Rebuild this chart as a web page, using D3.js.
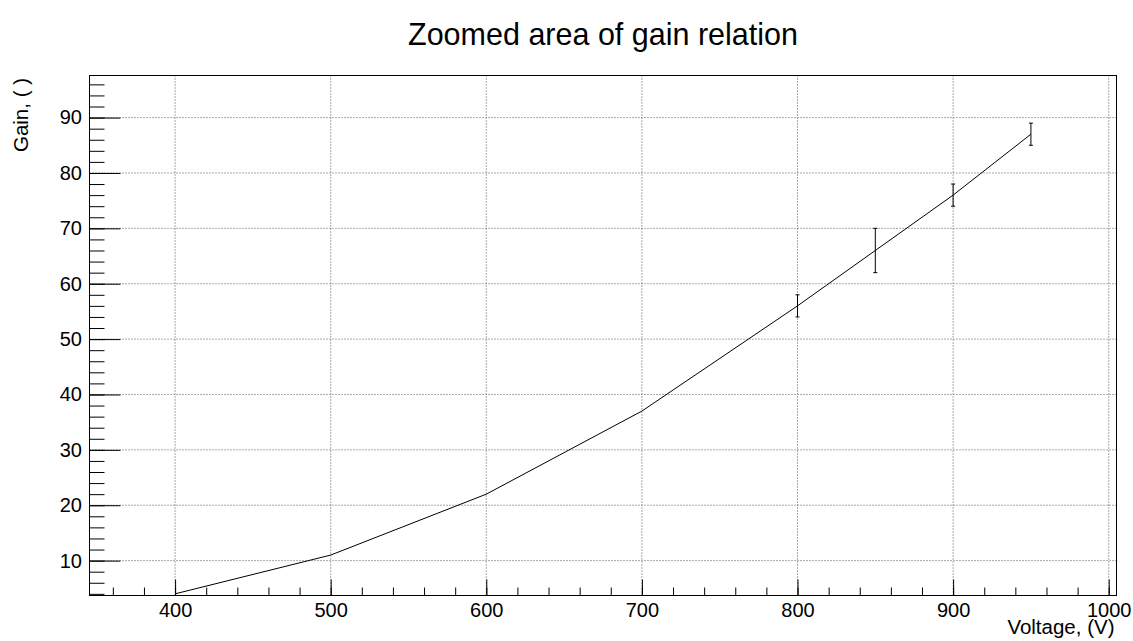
<!DOCTYPE html>
<html>
<head>
<meta charset="utf-8">
<script src="https://cdn.jsdelivr.net/npm/d3@7"></script>
<style>
  body { margin: 0; background: #fff; }
  svg { display: block; font-family: "Liberation Sans", Arial, sans-serif; }
</style>
</head>
<body>
<svg class="gain-chart"></svg>
<script>
// measured points: voltage (V) vs gain, with errors on the last four
const voltage = [400, 500, 600, 700, 800, 850, 900, 950];
const gain = [4, 11, 22, 37, 56, 66, 76, 87];
const gainErr = [0, 0, 0, 0, 2, 4, 2, 2];

const xTicks = [400, 500, 600, 700, 800, 900, 1000];
const xMinor = d3.range(360, 1001, 20);
const yTicks = [10, 20, 30, 40, 50, 60, 70, 80, 90];
const yMinor = d3.range(4, 97, 2);

const titleText = "Zoomed area of gain relation";
const xTitle = "Voltage, (V)";
const yTitle = "Gain, ( )";

let data = voltage.map((v, i) => ({ x: v, y: gain[i], e: gainErr[i] }));
drawChart(data);

function drawChart(data) {
    let svgWidth = 1133, svgHeight = 641;
    let margin = { top: 75.5, right: 16.5, bottom: 45.5, left: 89.5 };
    let width = svgWidth - margin.left - margin.right;
    let height = svgHeight - margin.top - margin.bottom;

    let svg = d3.select('.gain-chart')
        .attr("width", svgWidth)
        .attr("height", svgHeight);

    let g = svg.append("g")
        .attr("transform", "translate(" + margin.left + "," + margin.top + ")");

    let x = d3.scaleLinear().domain([345, 1005]).range([0, width]);
    let y = d3.scaleLinear().domain([3.7, 97.6]).range([height, 0]);

    // dotted grid
    g.append("g").selectAll("line")
        .data(xTicks)
        .join("line")
        .attr("x1", d => x(d)).attr("x2", d => x(d))
        .attr("y1", 0).attr("y2", height)
        .attr("stroke", "#555").attr("stroke-dasharray", "1,2");
    g.append("g").selectAll("line")
        .data(yTicks)
        .join("line")
        .attr("x1", 0).attr("x2", width)
        .attr("y1", d => y(d)).attr("y2", d => y(d))
        .attr("stroke", "#555").attr("stroke-dasharray", "1,2");

    // minor ticks
    g.append("g")
        .attr("transform", "translate(0," + height + ")")
        .call(d3.axisBottom(x).tickValues(xMinor).tickSize(-8).tickFormat(""))
        .call(a => a.select(".domain").remove());
    g.append("g")
        .call(d3.axisLeft(y).tickValues(yMinor).tickSize(-15).tickFormat(""))
        .call(a => a.select(".domain").remove());

    // major ticks + labels
    let xAxis = g.append("g")
        .attr("transform", "translate(0," + height + ")")
        .call(d3.axisBottom(x).tickValues(xTicks).tickSize(-16).tickPadding(7).tickFormat(d3.format("d")));
    xAxis.select(".domain").remove();
    xAxis.selectAll("text").attr("font-size", "20px").attr("fill", "#000");

    let yAxis = g.append("g")
        .call(d3.axisLeft(y).tickValues(yTicks).tickSize(-31).tickPadding(7.5).tickFormat(d3.format("d")));
    yAxis.select(".domain").remove();
    yAxis.selectAll("text").attr("font-size", "20px").attr("fill", "#000");

    // frame
    g.append("rect")
        .attr("width", width)
        .attr("height", height)
        .attr("fill", "none")
        .attr("stroke", "#000");

    // the curve
    let line = d3.line()
        .x(d => x(d.x))
        .y(d => y(d.y));

    g.append("path")
        .datum(data)
        .attr("fill", "none")
        .attr("stroke", "#000")
        .attr("stroke-width", 1)
        .attr("d", line);

    // error bars
    let bars = g.append("g").selectAll("g")
        .data(data.filter(d => d.e > 0))
        .join("g")
        .attr("stroke", "#000");
    bars.append("line")
        .attr("x1", d => x(d.x)).attr("x2", d => x(d.x))
        .attr("y1", d => y(d.y - d.e)).attr("y2", d => y(d.y + d.e));
    bars.append("line")
        .attr("x1", d => x(d.x) - 2).attr("x2", d => x(d.x) + 2)
        .attr("y1", d => y(d.y - d.e)).attr("y2", d => y(d.y - d.e));
    bars.append("line")
        .attr("x1", d => x(d.x) - 2).attr("x2", d => x(d.x) + 2)
        .attr("y1", d => y(d.y + d.e)).attr("y2", d => y(d.y + d.e));

    // titles
    svg.append("text")
        .attr("x", margin.left + width / 2)
        .attr("y", 45)
        .attr("text-anchor", "middle")
        .attr("font-size", "30.5px")
        .text(titleText);

    svg.append("text")
        .attr("x", margin.left + width - 2)
        .attr("y", 634)
        .attr("text-anchor", "end")
        .attr("font-size", "20.5px")
        .text(xTitle);

    svg.append("text")
        .attr("transform", "translate(27.5,78) rotate(-90)")
        .attr("text-anchor", "end")
        .attr("font-size", "20.5px")
        .text(yTitle);
}
</script>
</body>
</html>
